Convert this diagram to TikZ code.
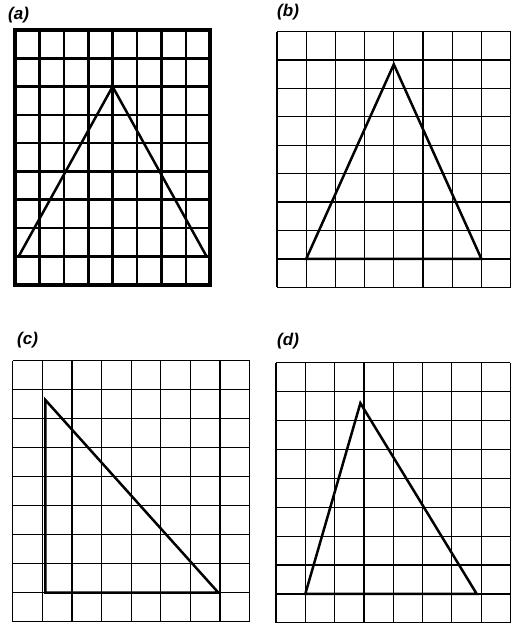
\documentclass[tikz,border=0pt]{standalone}
\usepackage{fontspec}
\newfontfamily\labelfont{Liberation Sans}

\tikzset{
  gridline/.style={line width=1.2pt, black},
  heavygrid/.style={line width=2.6pt},
  tri/.style={line width=2.5pt, line join=miter},
  panellabel/.style={font=\labelfont\bfseries\itshape\fontsize{17}{19}\selectfont, anchor=west, inner sep=0pt}
}

\begin{document}
\begin{tikzpicture}[x=1pt,y=-1pt]
  \useasboundingbox (0,0) rectangle (522,628);

  % (a) : heavy grid, 8 x 9
  \node[panellabel] (la) at (8,15.5) {(a)};
  \begin{scope}[shift={(15,30)}, x=24.4pt, y=-28.3pt]
    \foreach \i in {1,...,7} \draw[heavygrid] (\i,0) -- (\i,9);
    \foreach \j in {1,...,8} \draw[heavygrid] (0,\j) -- (8,\j);
    \draw[line width=4pt] (0,0) rectangle (8,9);
    \draw[tri] (0.15,8) -- (4,2) -- (7.85,8);
  \end{scope}

  % (b)
  \node[panellabel] (lb) at (277,12) {(b)};
  \begin{scope}[shift={(277,31.7)}, x=29.2pt, y=-28.4pt]
    \foreach \i in {0,...,8} \draw[gridline] (\i,0) -- (\i,9);
    \foreach \j in {0,...,9} \draw[gridline] (0,\j) -- (8,\j);
    \draw[tri] (1,8) -- (4,1.15) -- (7,8) -- cycle;
  \end{scope}

  % (c)
  \node[panellabel] (lc) at (17,340) {(c)};
  \begin{scope}[shift={(12.7,360.7)}, x=29.6pt, y=-29pt]
    \foreach \i in {0,...,8} \draw[gridline] (\i,0) -- (\i,9);
    \foreach \j in {0,...,9} \draw[gridline] (0,\j) -- (8,\j);
    \draw[tri] (1.1,1.35) -- (1.1,8) -- (6.95,8) -- cycle;
  \end{scope}

  % (d)
  \node[panellabel] (ld) at (277,341.5) {(d)};
  \begin{scope}[shift={(276,362.7)}, x=29.3pt, y=-28.9pt]
    \foreach \i in {0,...,8} \draw[gridline] (\i,0) -- (\i,9);
    \foreach \j in {0,...,9} \draw[gridline] (0,\j) -- (8,\j);
    \draw[tri] (1,8) -- (2.88,1.4) -- (6.85,8) -- cycle;
  \end{scope}

\end{tikzpicture}
\end{document}
